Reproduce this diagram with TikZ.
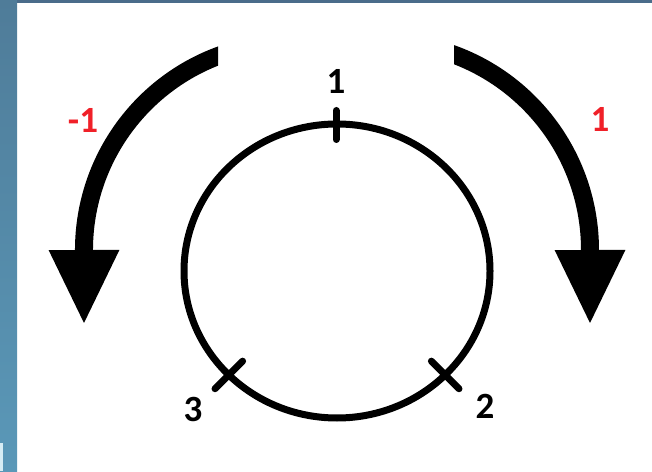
\documentclass[tikz,border=0pt]{standalone}
\usepackage{fontspec}
\setmainfont{Carlito}
\usepackage{tikz}
\usetikzlibrary{arrows.meta,positioning,calc}
\definecolor{frame}{RGB}{79,124,153}
\definecolor{framelow}{RGB}{90,152,184}
\definecolor{frametop}{RGB}{74,108,138}
\definecolor{patch}{RGB}{214,236,244}
\definecolor{signred}{RGB}{240,32,40}

\tikzset{
  ring/.style={line width=7pt},
  tick/.style={line width=7pt, line cap=round},
  turn/.style={line width=18pt, -{Triangle[width=65pt,length=75pt]}},
  num/.style={font=\fontsize{37}{38}\selectfont\bfseries, inner sep=0pt},
  sign/.style={num, text=signred}
}

\begin{document}
\begin{tikzpicture}[x=1pt, y=1pt]
				\useasboundingbox (0,0) rectangle (652,471);
				% screenshot edges
				\shade[top color=frame, bottom color=framelow] (0,0) rectangle (17,471);
				\fill[frametop] (17,468) rectangle (652,471);
				\fill[patch] (0,0) rectangle (3,28);
				% ring with its three marks
				\draw[ring] (337,200) ellipse [x radius=153, y radius=147];
				\draw[tick] (336,331.5) -- (336,360.5);
				\draw[tick] ($(337,200)+(-45:153 and 147)+(-45:-19.5)$) -- ($(337,200)+(-45:153 and 147)+(-45:19.5)$);
				\draw[tick] ($(337,200)+(225:153 and 147)+(225:-19.5)$) -- ($(337,200)+(225:153 and 147)+(225:19.5)$);
				\node[num] (top) at (336,390) {1};
				\node[num] (right) at (485,65) {2};
				\node[num] (left) at (193,62) {3};
				% turning arrows, upper ends cut straight
				\coordinate (lstart) at (237.7,421.3);
				\coordinate (ltip) at (84,146);
				\coordinate (rstart) at (435.6,422.2);
				\coordinate (rtip) at (590,146);
				\begin{scope}
					\clip (0,0) rectangle (218,471);
					\draw[turn] (lstart) arc [start angle=105, end angle=180, radius=207.4] -- (ltip);
				\end{scope}
				\begin{scope}
					\clip (454,0) rectangle (652,471);
					\draw[turn] (rstart) arc [start angle=75, end angle=0, radius=208.3] -- (rtip);
				\end{scope}
				\node[sign] (minus) at (83,351) {-1};
				\node[sign] (plus) at (600,352) {1};
			\end{tikzpicture}
\end{document}
